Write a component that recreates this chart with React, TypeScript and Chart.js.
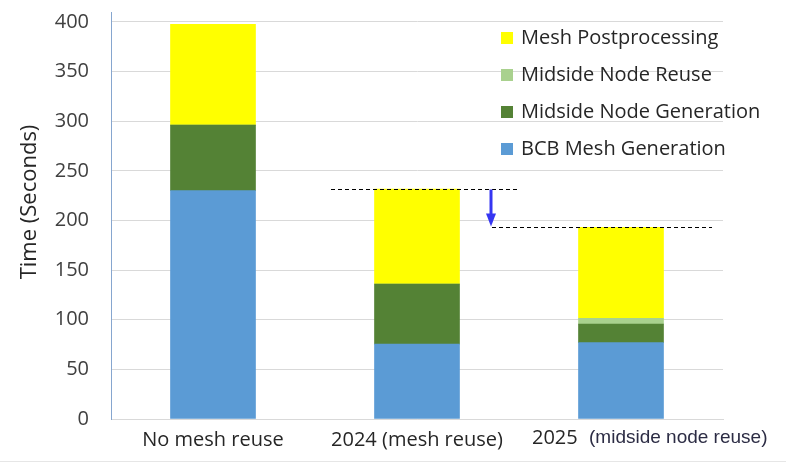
import React, { useEffect, useRef } from "react";
import { Chart, registerables } from "chart.js";

Chart.register(...registerables);

const categories = ["No mesh reuse", "2024 (mesh reuse)", "2025 (midside node reuse)"];
const bcbMeshGeneration = [230, 75.5, 77];
const midsideNodeGeneration = [66, 60.5, 18.5];
const midsideNodeReuse = [0, 0, 6];
const meshPostprocessing = [101.5, 95.5, 91.5];
const seriesLabels = ["BCB Mesh Generation", "Midside Node Generation", "Midside Node Reuse", "Mesh Postprocessing"];
const seriesColors = ["#5b9bd5", "#548235", "#a9d18e", "#ffff00"];
const yTickValues = [0, 50, 100, 150, 200, 250, 300, 350, 400];
const yTitle = "Time (Seconds)";

const FONT = "'Open Sans', 'Liberation Sans', sans-serif";

const overlayPlugin = {
  id: "overlay",
  afterDatasetsDraw(chart: any) {
    const { ctx, chartArea, scales } = chart;
    const x = scales.x;
    const y = scales.y;
    const totals = categories.map(
      (_, i) => bcbMeshGeneration[i] + midsideNodeGeneration[i] + midsideNodeReuse[i] + meshPostprocessing[i]
    );
    const c2 = x.getPixelForValue(1);
    const c3 = x.getPixelForValue(2);
    const y1 = Math.round(y.getPixelForValue(totals[1])) + 0.5;
    const y2 = Math.round(y.getPixelForValue(totals[2])) + 0.5;
    ctx.save();
    // dashed reference lines
    ctx.strokeStyle = "#000";
    ctx.lineWidth = 1;
    ctx.setLineDash([4, 3]);
    ctx.beginPath();
    ctx.moveTo(c2 - 86, y1);
    ctx.lineTo(c2 + 100, y1);
    ctx.moveTo(c3 - 129, y2);
    ctx.lineTo(c3 + 91, y2);
    ctx.stroke();
    ctx.setLineDash([]);
    // arrow
    const xa = c3 - 130;
    ctx.strokeStyle = "#3636f2";
    ctx.fillStyle = "#3636f2";
    ctx.lineWidth = 3;
    ctx.beginPath();
    ctx.moveTo(xa, y1);
    ctx.lineTo(xa, y2 - 12);
    ctx.stroke();
    ctx.beginPath();
    ctx.moveTo(xa - 5, y2 - 14);
    ctx.lineTo(xa + 5, y2 - 14);
    ctx.lineTo(xa, y2 - 1);
    ctx.closePath();
    ctx.fill();

    // legend (reverse order)
    const lx = chartArea.right - 222;
    ctx.font = `20px ${FONT}`;
    ctx.textBaseline = "middle";
    ctx.textAlign = "left";
    for (let k = 0; k < seriesLabels.length; k++) {
      const idx = seriesLabels.length - 1 - k;
      const cy = chartArea.top + 26 + k * 37;
      ctx.fillStyle = seriesColors[idx];
      ctx.fillRect(lx, cy - 6, 12, 12);
      ctx.fillStyle = "#262626";
      ctx.fillText(seriesLabels[idx], lx + 20, cy);
    }

    // third category label (mixed fonts)
    const ly = chartArea.bottom + 19;
    const parts = categories[2].split(" ");
    ctx.fillStyle = "#262626";
    ctx.font = `20px ${FONT}`;
    ctx.fillText(parts[0], c3 - 89, ly);
    ctx.fillStyle = "#2c2c44";
    ctx.font = `19px 'Liberation Sans', Arial, sans-serif`;
    ctx.fillText(parts.slice(1).join(" "), c3 - 32, ly);

    // y title
    ctx.save();
    ctx.translate(30, 202);
    ctx.rotate(-Math.PI / 2);
    ctx.textAlign = "center";
    ctx.textBaseline = "middle";
    ctx.fillStyle = "#262626";
    ctx.font = `22px ${FONT}`;
    ctx.fillText(yTitle, 0, 0);
    ctx.restore();

    // faint frame line at bottom
    ctx.strokeStyle = "#e6e6e6";
    ctx.lineWidth = 1;
    ctx.beginPath();
    ctx.moveTo(0, 461.5);
    ctx.lineTo(chart.width, 461.5);
    ctx.stroke();
    ctx.restore();
  },
};

export default function App() {
  const ref = useRef<HTMLCanvasElement | null>(null);
  useEffect(() => {
    document.body.style.margin = "0";
    const canvas = ref.current;
    if (!canvas) return;
    const data = [bcbMeshGeneration, midsideNodeGeneration, midsideNodeReuse, meshPostprocessing];
    const chart = new Chart(canvas, {
      type: "bar",
      data: {
        labels: categories,
        datasets: data.map((d, i) => ({
          label: seriesLabels[i],
          data: d,
          backgroundColor: seriesColors[i],
          borderWidth: 0,
          barThickness: 85,
        })),
      },
      options: {
        responsive: false,
        animation: false,
        devicePixelRatio: 1,
        layout: { padding: { top: 12, right: 63, left: 0, bottom: 0 } },
        plugins: {
          legend: { display: false },
          tooltip: { enabled: false },
          title: { display: false },
        },
        scales: {
          x: {
            stacked: true,
            grid: { display: false },
            border: { color: "#d9d9d9", width: 1 },
            ticks: {
              color: "#262626",
              font: { family: FONT, size: 20 },
              padding: 1,
              maxRotation: 0,
              autoSkip: false,
              callback: (_v: any, i: number) => (i < 2 ? categories[i] : ""),
            },
            afterFit: (s: any) => {
              s.height = 45;
              s.paddingLeft = 0;
              s.paddingRight = 0;
            },
          },
          y: {
            stacked: true,
            min: 0,
            max: 410,
            afterBuildTicks: (s: any) => {
              s.ticks = [...yTickValues, 410].map((v) => ({ value: v }));
            },
            grid: {
              color: (c: any) => (c.tick && c.tick.value > 400 ? "rgba(0,0,0,0)" : "#d9d9d9"),
              drawTicks: false,
              lineWidth: 1,
            },
            border: { color: "#86a6cf", width: 1 },
            ticks: {
              color: "#404040",
              font: { family: FONT, size: 20 },
              padding: 22,
              callback: (v: any) => (yTickValues.includes(Number(v)) ? String(v) : ""),
            },
            afterFit: (s: any) => {
              s.width = 111;
              s.paddingTop = 0;
              s.paddingBottom = 0;
            },
          },
        },
      },
      plugins: [overlayPlugin],
    });
    return () => chart.destroy();
  }, []);
  return (
    <div style={{ width: 786, height: 464, background: "#fff" }}>
      <canvas ref={ref} width={786} height={464} />
    </div>
  );
}
